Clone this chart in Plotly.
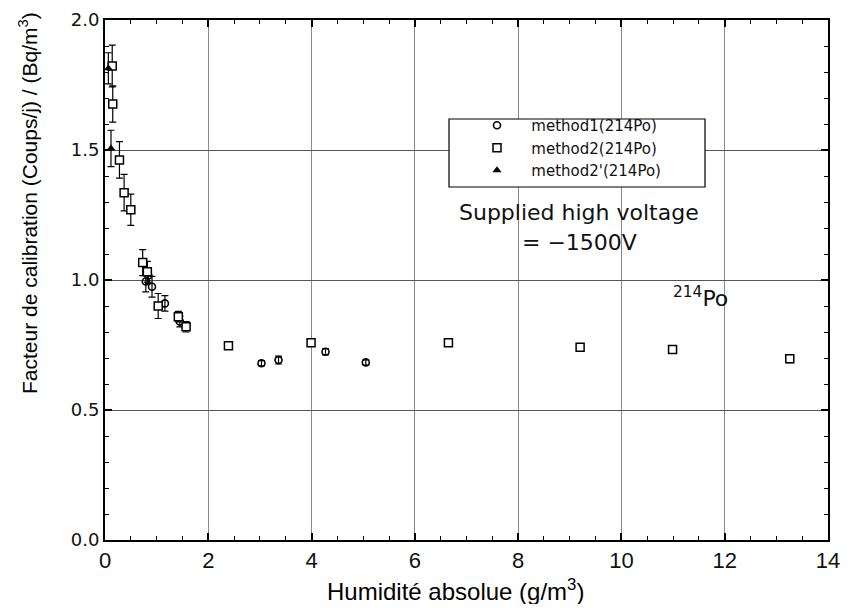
import plotly.graph_objects as go

# ---- data ----
m1_x = [0.79, 0.84, 0.91, 1.16, 1.45, 3.03, 3.36, 4.27, 5.05]
m1_y = [0.994, 1.017, 0.974, 0.91, 0.84, 0.680, 0.692, 0.724, 0.683]
m1_err = [0.04, 0.03, 0.04, 0.03, 0.02, 0.01, 0.015, 0.012, 0.01]

m2_x = [0.14, 0.15, 0.28, 0.37, 0.50, 0.73, 0.82, 1.03, 1.42, 1.57, 2.39, 3.99, 6.65, 9.20, 10.99, 13.26]
m2_y = [1.823, 1.677, 1.462, 1.336, 1.27, 1.067, 1.032, 0.90, 0.859, 0.82, 0.747, 0.759, 0.759, 0.741, 0.733, 0.697]
m2_err = [0.08, 0.07, 0.07, 0.07, 0.06, 0.05, 0.04, 0.048, 0.02, 0.02, 0.01, 0.01, 0.01, 0.01, 0.01, 0.015]

m2p_x = [0.065, 0.116]
m2p_y = [1.814, 1.506]
m2p_err = [0.06, 0.07]

x_ticks = [0, 2, 4, 6, 8, 10, 12, 14]
y_ticks = [0.0, 0.5, 1.0, 1.5, 2.0]

names = ["method1(214Po)", "method2(214Po)", "method2'(214Po)"]
pad = "\u00a0" * 3

# plot area in page pixels (page has an 8px body margin)
PX0, PX1, PY0, PY1 = 105, 828, 20, 540
def px(x):
    return (x - PX0) / (PX1 - PX0)
def py(y):
    return (PY1 - y) / (PY1 - PY0)

fig = go.Figure()

err_style = dict(type="data", color="black", thickness=1.2, width=3.5)

fig.add_trace(go.Scatter(
    x=m1_x, y=m1_y, mode="markers", name=pad + names[0],
    marker=dict(symbol="circle-open", size=7, color="black", line=dict(width=1.6)),
    error_y=dict(array=m1_err, **err_style),
))
fig.add_trace(go.Scatter(
    x=m2_x, y=m2_y, mode="markers", name=pad + names[1],
    marker=dict(symbol="square", size=8, color="white", line=dict(width=1.5, color="black")),
    error_y=dict(array=m2_err, **err_style),
))
fig.add_trace(go.Scatter(
    x=m2p_x, y=m2p_y, mode="markers", name=pad + names[2],
    marker=dict(symbol="triangle-up", size=8, color="black", line=dict(width=0)),
    error_y=dict(array=m2p_err, **err_style),
))

# legend box (drawn above the grid, under the legend entries)
fig.add_shape(type="rect", xref="paper", yref="paper",
              x0=px(449), x1=px(705), y0=py(187), y1=py(119),
              line=dict(color="black", width=1.2), fillcolor="white", layer="above")

fig.add_annotation(x=px(579), y=py(212), xref="paper", yref="paper",
                   xanchor="center", yanchor="middle",
                   text="Supplied high voltage", showarrow=False,
                   font=dict(family="DejaVu Sans", size=22, color="#111"))
fig.add_annotation(x=px(579), y=py(242), xref="paper", yref="paper",
                   xanchor="center", yanchor="middle",
                   text="= \u22121500V", showarrow=False,
                   font=dict(family="DejaVu Sans", size=22, color="#111"))
fig.add_annotation(x=11.54, y=0.935, xref="x", yref="y",
                   xanchor="center", yanchor="middle",
                   text="<sup>214</sup>Po", showarrow=False,
                   font=dict(family="DejaVu Sans", size=22, color="#111"))

# axis titles
fig.add_annotation(x=px(28), y=py(203), xref="paper", yref="paper",
                   xanchor="center", yanchor="middle",
                   text="Facteur de calibration (Coups/j) / (Bq/m<sup>3</sup>)",
                   textangle=-90, showarrow=False,
                   font=dict(family="Liberation Sans", size=21, color="black"))
fig.add_annotation(x=px(455), y=py(590), xref="paper", yref="paper",
                   xanchor="center", yanchor="middle",
                   text="Humidité absolue (g/m<sup>3</sup>)", showarrow=False,
                   font=dict(family="Liberation Sans", size=24, color="black"))

W, H = 834, 596
fig.update_layout(
    width=W, height=H,
    margin=dict(l=PX0 - 8, r=W - (PX1 - 8), t=PY0 - 8, b=H - (PY1 - 8), autoexpand=False),
    plot_bgcolor="white", paper_bgcolor="white",
    showlegend=True,
    legend=dict(x=px(477), y=py(109), xanchor="left", yanchor="top",
                bgcolor="rgba(0,0,0,0)", borderwidth=0,
                font=dict(family="DejaVu Sans", size=15, color="#111")),
    xaxis=dict(range=[0, 14], tickvals=x_ticks, ticktext=[str(v) for v in x_ticks],
               showgrid=True, gridcolor="#8a8a8a", gridwidth=1, automargin=False,
               zeroline=False, showline=True, linecolor="black", linewidth=2,
               mirror="allticks", ticks="inside", ticklen=7, tickwidth=1.5, tickcolor="black",
               minor=dict(dtick=0.5, ticks="inside", ticklen=4, tickwidth=1.2, tickcolor="black", showgrid=False),
               tickfont=dict(family="Liberation Sans", size=22, color="#111")),
    yaxis=dict(range=[0, 2], tickvals=y_ticks, ticktext=["%.1f" % v for v in y_ticks],
               showgrid=True, gridcolor="#555555", gridwidth=1, automargin=False,
               zeroline=False, showline=True, linecolor="black", linewidth=2,
               mirror="allticks", ticks="inside", ticklen=7, tickwidth=1.5, tickcolor="black",
               minor=dict(dtick=0.1, ticks="inside", ticklen=4, tickwidth=1.2, tickcolor="black", showgrid=False),
               tickfont=dict(family="DejaVu Sans", size=18, color="#111")),
)

fig.write_html("out.html")
